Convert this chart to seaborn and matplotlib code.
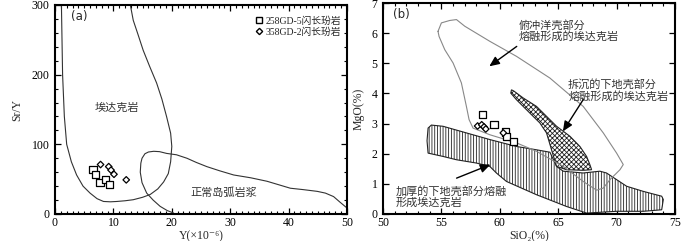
import numpy as np
import pandas as pd
import matplotlib
matplotlib.use("Agg")
import matplotlib.pyplot as plt
import seaborn as sns
from matplotlib.patches import Polygon
from matplotlib.lines import Line2D

# ---------------- data: panel (a) ----------------
sq_a_y = [6.5, 7.0, 7.7, 8.7, 9.4]
sq_a_sry = [64, 57, 45, 49, 42]
di_a_y = [7.8, 9.2, 9.6, 10.1, 12.2]
di_a_sry = [71, 68, 63, 57, 49]

adakite_x = [1.1, 1.2, 1.3, 1.6, 2.0, 2.8, 3.7, 4.8, 6.0, 7.2, 8.3, 9.5, 10.6, 12.0, 13.4, 15.0, 16.3, 17.6, 18.6, 19.4, 19.8, 20.0, 19.8, 19.1, 18.3, 17.4, 16.2, 15.1, 14.2, 13.4, 12.9]
adakite_sry = [300, 250, 200, 140, 100, 75, 56, 40, 30, 22, 18, 17.5, 18, 19, 20.5, 24, 28, 36, 46, 58, 75, 97, 116, 140, 165, 188, 212, 235, 258, 278, 300]

arc_x = [50.0, 48.8, 47.7, 46.3, 44.9, 42.5, 40.3, 38.3, 36.3, 33.5, 30.6, 28.2, 26.0, 24.2, 22.6, 20.8, 19.1, 17.9, 16.9, 16.0, 15.4, 14.9, 14.7, 14.6, 14.9, 15.7, 16.8, 18.0, 19.2, 20.3]
arc_sry = [8.6, 17, 25, 30, 32.5, 35, 37, 42, 47, 52, 56, 62, 68, 74, 80, 85, 87, 89.5, 90, 89, 86.5, 80, 73, 60, 45, 30, 20, 11, 5, 1.4]

label_a = ["埃达克岩", "正常岛弧岩浆"]
legend_labels = ["258GD-5闪长玢岩", "358GD-2闪长玢岩"]

# ---------------- data: panel (b) ----------------
sq_b_si = [58.5, 59.5, 60.5, 60.6, 61.2]
sq_b_mg = [3.30, 2.96, 2.72, 2.58, 2.39]
di_b_si = [58.1, 58.45, 58.65, 58.8, 60.3]
di_b_mg = [2.92, 2.96, 2.89, 2.82, 2.69]

ocean_si = [54.71, 55.0, 55.71, 56.29, 57.0, 59.14, 61.43, 64.29, 67.14, 68.86, 70.0, 70.57, 70.29, 69.43, 68.86, 68.29, 67.14, 65.43, 63.14, 61.43, 59.14, 57.71, 57.37, 57.14, 56.71, 56.0, 55.29, 54.8, 54.71]
ocean_mg = [6.06, 6.34, 6.42, 6.45, 6.23, 5.73, 5.23, 4.51, 3.57, 2.69, 2.02, 1.64, 1.47, 1.14, 0.86, 0.79, 1.08, 1.58, 2.08, 2.36, 2.63, 2.85, 3.13, 3.57, 4.35, 5.01, 5.45, 5.89, 6.06]

thick_si = [53.86, 54.14, 55.14, 57.14, 59.14, 61.43, 63.14, 64.29, 64.86, 65.43, 67.14, 68.57, 69.14, 70.0, 70.86, 72.29, 73.86, 74.0, 73.86, 72.29, 70.0, 67.43, 65.71, 63.14, 60.57, 59.71, 59.14, 58.0, 56.29, 55.14, 53.86, 53.77]
thick_mg = [2.85, 2.95, 2.91, 2.69, 2.47, 2.24, 2.13, 2.05, 1.58, 1.42, 1.36, 1.42, 1.36, 1.14, 0.92, 0.75, 0.59, 0.48, 0.14, 0.09, 0.09, 0.03, 0.25, 0.64, 1.08, 1.36, 1.58, 1.69, 1.80, 1.91, 2.02, 2.43]

delam_si = [61.0, 61.2, 62.0, 63.14, 64.0, 64.86, 66.0, 66.86, 67.43, 67.71, 67.86, 67.14, 65.71, 64.86, 64.43, 64.0, 63.43, 62.57, 61.43, 60.94]
delam_mg = [4.12, 4.08, 3.85, 3.57, 3.24, 2.91, 2.58, 2.24, 1.91, 1.64, 1.47, 1.45, 1.47, 1.58, 2.13, 2.69, 3.02, 3.35, 3.79, 4.01]

label_b = ["俯冲洋壳部分\n熔融形成的埃达克岩", "拆沉的下地壳部分\n熔融形成的埃达克岩", "加厚的下地壳部分熔融\n形成埃达克岩"]

# ---------------- style ----------------
sns.set_theme(style="ticks")
plt.rcParams['font.family'] = ['Liberation Serif', 'Noto Sans CJK SC', 'DejaVu Sans']
plt.rcParams['hatch.linewidth'] = 0.6
plt.rcParams['axes.unicode_minus'] = False

fig = plt.figure(figsize=(7.0, 2.41), dpi=100)
ax1 = fig.add_axes([55/700, 1-214/241, 292/700, 209/241])
ax2 = fig.add_axes([383/700, 1-214/241, 292/700, 211/241])

cjk = ['Noto Sans CJK SC', 'DejaVu Sans']
tickfs = 8.5
cjkfs = 8
SQ, DI = 26, 11

def style_axis(ax):
    for s in ax.spines.values():
        s.set_linewidth(1.5)
        s.set_color('black')
    ax.tick_params(which='both', direction='in', top=True, right=True, colors='black', labelsize=tickfs)
    ax.tick_params(axis='x', which='both', pad=2)
    ax.tick_params(axis='y', which='both', pad=4)
    ax.tick_params(which='major', length=4, width=0.9)
    ax.tick_params(which='minor', length=2, width=0.8)

# ---------- panel a ----------
ax1.plot(adakite_x, adakite_sry, color='#333333', lw=0.8)
ax1.plot(arc_x, arc_sry, color='#333333', lw=0.8)
dfa = pd.DataFrame({'x': sq_a_y + di_a_y, 'y': sq_a_sry + di_a_sry,
                    'g': [legend_labels[0]]*len(sq_a_y) + [legend_labels[1]]*len(di_a_y)})
sns.scatterplot(data=dfa, x='x', y='y', hue='g', style='g', markers={legend_labels[0]: 's', legend_labels[1]: 'D'},
                palette=['white', 'white'], edgecolor='black', linewidth=0.9, ax=ax1, legend=False, zorder=5)
for c in ax1.collections:
    c.set_sizes([SQ if i < len(sq_a_y) else DI for i in range(len(c.get_offsets()))])
ax1.set_xlim(0, 50)
ax1.set_ylim(0, 300)
ax1.set_xticks([0, 10, 20, 30, 40, 50])
ax1.set_yticks([0, 100, 200, 300])
ax1.set_xticks(np.arange(0, 51, 1), minor=True)
ax1.set_yticks(np.arange(0, 301, 20), minor=True)
style_axis(ax1)
ax1.set_xlabel('Y(×10⁻⁶)', fontsize=8.5, labelpad=1)
ax1.set_ylabel('Sr/Y', fontsize=8.5, labelpad=6)
ax1.text(10.6, 153, label_a[0], fontsize=cjkfs, family=cjk, ha='center', va='center', color='#333333')
ax1.text(28.9, 31, label_a[1], fontsize=cjkfs, family=cjk, ha='center', va='center', color='#333333')
ax1.text(0.055, 0.975, '(a)', transform=ax1.transAxes, fontsize=8.5, family=['DejaVu Sans'], ha='left', va='top')
h = [Line2D([], [], marker='s', ls='none', mfc='white', mec='black', ms=4.5, mew=1.0),
     Line2D([], [], marker='D', ls='none', mfc='white', mec='black', ms=3.2, mew=1.0)]
ax1.legend(h, legend_labels, loc='upper right', bbox_to_anchor=(1.0, 0.975), frameon=False,
           prop={'family': ['Liberation Serif', 'Noto Sans CJK SC'], 'size': 7}, handlelength=0.8,
           handletextpad=0.3, labelspacing=0.2, borderaxespad=0.2)

# ---------- panel b ----------
ax2.plot(ocean_si, ocean_mg, color='#888888', lw=0.8)
ax2.add_patch(Polygon(np.column_stack([thick_si, thick_mg]), closed=True, facecolor='white',
                      edgecolor='#222222', lw=0.8, hatch='||||||'))
ax2.add_patch(Polygon(np.column_stack([delam_si, delam_mg]), closed=True, facecolor='white',
                      edgecolor='#222222', lw=0.8, hatch='xxxxxxx'))
dfb = pd.DataFrame({'x': sq_b_si + di_b_si, 'y': sq_b_mg + di_b_mg,
                    'g': [legend_labels[0]]*len(sq_b_si) + [legend_labels[1]]*len(di_b_si)})
sns.scatterplot(data=dfb, x='x', y='y', hue='g', style='g', markers={legend_labels[0]: 's', legend_labels[1]: 'D'},
                palette=['white', 'white'], edgecolor='black', linewidth=0.9, ax=ax2, legend=False, zorder=5)
for c in ax2.collections:
    if len(c.get_offsets()) == len(sq_b_si) + len(di_b_si):
        c.set_sizes([SQ if i < len(sq_b_si) else DI for i in range(len(c.get_offsets()))])
ax2.set_xlim(50, 75)
ax2.set_ylim(0, 7)
ax2.set_xticks([50, 55, 60, 65, 70, 75])
ax2.set_yticks(np.arange(0, 8, 1))
ax2.set_xticks(np.arange(50, 76, 1), minor=True)
style_axis(ax2)
ax2.set_xlabel('SiO₂(%)', fontsize=8.5, labelpad=1)
ax2.set_ylabel('MgO(%)', fontsize=8.5, labelpad=5)
ax2.text(0.035, 0.975, '(b)', transform=ax2.transAxes, fontsize=8.5, family=['DejaVu Sans'], ha='left', va='top')
ax2.text(61.6, 6.07, label_b[0], fontsize=cjkfs, family=cjk, ha='left', va='center', color='#333333', linespacing=1.05)
ax2.text(65.85, 4.1, label_b[1], fontsize=cjkfs, family=cjk, ha='left', va='center', color='#333333', linespacing=1.05)
ax2.text(51.1, 0.57, label_b[2], fontsize=cjkfs, family=cjk, ha='left', va='center', color='#333333', linespacing=1.05)
arrow = dict(arrowstyle='-|>,head_length=0.5,head_width=0.22', color='black', lw=1.0, shrinkA=0, shrinkB=0)
ax2.annotate('', xy=(59.1, 4.9), xytext=(61.45, 5.56), arrowprops=arrow)
ax2.annotate('', xy=(65.4, 2.74), xytext=(67.15, 3.8), arrowprops=arrow)
ax2.annotate('', xy=(59.2, 1.64), xytext=(56.3, 1.19), arrowprops=arrow)

fig.savefig('out.png', dpi=100)
